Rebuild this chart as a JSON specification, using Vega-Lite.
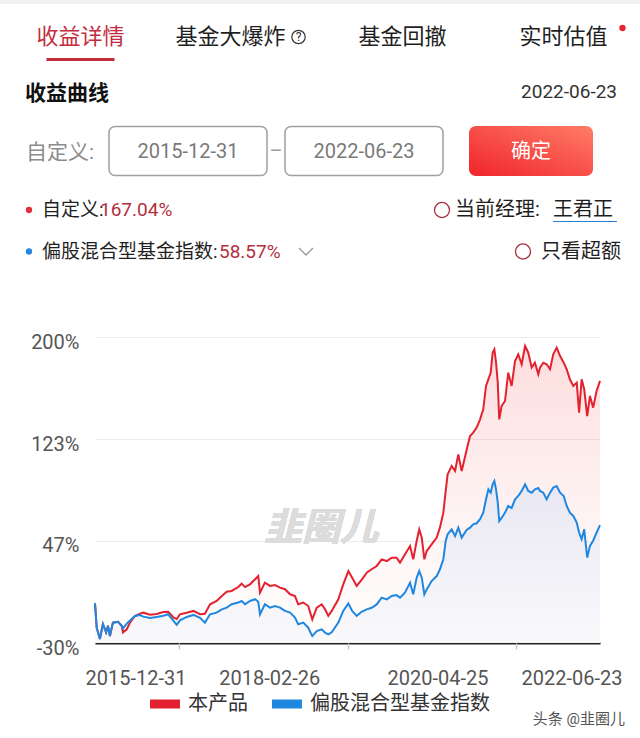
{
  "$schema": "https://vega.github.io/schema/vega-lite/v6.json",
  "padding": 0,
  "spacing": 0,
  "background": "white",
  "resolve": {"scale": {"color": "independent", "x": "independent", "y": "independent"}},
  "config": {
    "view": {"stroke": null},
    "font": "Roboto, Noto Sans CJK SC, sans-serif",
    "text": {"font": "Roboto, Noto Sans CJK SC, sans-serif"}
  },
  "vconcat": [
    {
      "width": 545,
      "height": 4,
      "data": {"values": [{"bar": "top"}]},
      "mark": {"type": "bar", "color": "#f1f1f1"},
      "encoding": {
        "x": {"field": "bar", "type": "nominal", "axis": null,
              "scale": {"type": "band", "range": [-95, 545], "paddingInner": 0, "paddingOuter": 0}}
      }
    },
    {
      "width": 545,
      "height": 54,
      "data": {"values": [
        {"tab": "收益详情", "state": "active", "help": false},
        {"tab": "基金大爆炸", "state": "normal", "help": true},
        {"tab": "基金回撤", "state": "normal", "help": false},
        {"tab": "实时估值", "state": "normal", "help": false, "badge": true}
      ]},
      "encoding": {
        "x": {"field": "tab", "type": "nominal", "axis": null,
              "scale": {"type": "band", "domain": ["收益详情", "基金大爆炸", "基金回撤", "实时估值"], "range": [-95, 549], "paddingInner": 0, "paddingOuter": 0}}
      },
      "layer": [
        {"transform": [{"filter": "!datum.help"}],
         "mark": {"type": "text", "fontSize": 22, "dy": 6},
         "encoding": {
           "text": {"field": "tab"},
           "color": {"field": "state", "type": "nominal", "scale": {"domain": ["active", "normal"], "range": ["#c42b3d", "#1f1f1f"]}, "legend": null}
         }},
        {"transform": [{"filter": "datum.help"}],
         "mark": {"type": "text", "fontSize": 22, "dy": 6, "dx": -11, "color": "#1f1f1f"},
         "encoding": {"text": {"field": "tab"}}},
        {"transform": [{"filter": "datum.help"}],
         "mark": {"type": "point", "shape": "circle", "size": 180, "color": "#333333", "strokeWidth": 1.2, "opacity": 1, "xOffset": 57, "yOffset": 6}},
        {"transform": [{"filter": "datum.help"}],
         "mark": {"type": "text", "fontSize": 12, "color": "#333333", "dx": 57, "dy": 6},
         "encoding": {"text": {"value": "?"}}},
        {"transform": [{"filter": "datum.badge"}],
         "mark": {"type": "point", "shape": "circle", "filled": true, "opacity": 1, "size": 40, "color": "#e8222e", "xOffset": 59, "yOffset": -3}}
      ]
    },
    {
      "width": 545,
      "height": 3,
      "data": {"values": [{"tab": "收益详情"}]},
      "mark": {"type": "bar", "width": 68, "color": "#c42b3d"},
      "encoding": {
        "x": {"field": "tab", "type": "nominal", "axis": null,
              "scale": {"type": "band", "domain": ["收益详情", "基金大爆炸", "基金回撤", "实时估值"], "range": [-95, 549], "paddingInner": 0, "paddingOuter": 0}}
      }
    },
    {
      "width": 545,
      "height": 61.5,
      "data": {"values": [{"c": "收益曲线"}, {"c": "2022-06-23"}]},
      "encoding": {
        "x": {"field": "c", "type": "nominal", "axis": null,
              "scale": {"type": "point", "domain": ["收益曲线", "2022-06-23"], "range": [-70, 522], "padding": 0}},
        "text": {"field": "c"}
      },
      "layer": [
        {"transform": [{"filter": "datum.c == '收益曲线'"}],
         "mark": {"type": "text", "align": "left", "fontSize": 21, "fontWeight": "bold", "color": "#111111", "dy": 2}},
        {"transform": [{"filter": "datum.c != '收益曲线'"}],
         "mark": {"type": "text", "align": "right", "fontSize": 19, "color": "#333333", "dy": 0}}
      ]
    },
    {
      "width": 545,
      "height": 50,
      "resolve": {"scale": {"x": "independent"}},
      "layer": [
        {
          "data": {"values": [{"w": "自定义:"}]},
          "mark": {"type": "text", "align": "left", "fontSize": 21, "color": "#8c8c8c", "dy": 2},
          "encoding": {
            "x": {"field": "w", "type": "nominal", "axis": null, "scale": {"type": "point", "range": [-69, -69], "padding": 0}},
            "text": {"field": "w"}
          }
        },
        {
          "data": {"values": [{"w": "2015-12-31", "k": "box"}, {"w": "–", "k": "dash"}, {"w": "2022-06-23", "k": "box"}]},
          "encoding": {
            "x": {"field": "w", "type": "nominal", "axis": null,
                  "scale": {"type": "point", "domain": ["2015-12-31", "–", "2022-06-23"], "range": [93, 269], "padding": 0}}
          },
          "layer": [
            {"transform": [{"filter": "datum.k == 'box'"}],
             "mark": {"type": "point", "shape": "M-0.9125,-0.30625H0.9125A0.075,0.075,0,0,1,0.9875,-0.23125V0.23125A0.075,0.075,0,0,1,0.9125,0.30625H-0.9125A0.075,0.075,0,0,1,-0.9875,0.23125V-0.23125A0.075,0.075,0,0,1,-0.9125,-0.30625Z",
                      "size": 25600, "filled": false, "stroke": "#a0a0a0", "strokeWidth": 1.5, "opacity": 1}},
            {"mark": {"type": "text", "fontSize": 20, "dy": 1},
             "encoding": {
               "text": {"field": "w"},
               "color": {"field": "k", "type": "nominal", "scale": {"domain": ["box", "dash"], "range": ["#7a7a7a", "#9a9a9a"]}, "legend": null}
             }}
          ]
        },
        {
          "data": {"values": [{"w": "确定"}]},
          "encoding": {
            "x": {"field": "w", "type": "nominal", "axis": null, "scale": {"type": "point", "range": [436, 436], "padding": 0}}
          },
          "layer": [
            {"mark": {"type": "point", "shape": "M-0.859375,-0.390625H0.859375A0.109375,0.109375,0,0,1,0.96875,-0.28125V0.28125A0.109375,0.109375,0,0,1,0.859375,0.390625H-0.859375A0.109375,0.109375,0,0,1,-0.96875,0.28125V-0.28125A0.109375,0.109375,0,0,1,-0.859375,-0.390625Z",
                      "size": 16384, "filled": true, "opacity": 1, "strokeWidth": 0,
                      "fill": {"gradient": "linear", "x1": 0, "y1": 1, "x2": 1, "y2": 0,
                               "stops": [{"offset": 0, "color": "#f0242c"}, {"offset": 1, "color": "#ff7c66"}]}}},
            {"mark": {"type": "text", "fontSize": 20, "color": "#ffffff", "dy": 1},
             "encoding": {"text": {"field": "w"}}}
          ]
        }
      ]
    },
    {
      "width": 545,
      "height": 55,
      "resolve": {"scale": {"x": "independent"}},
      "layer": [
        {
          "data": {"values": [{"s": "自定义"}]},
          "mark": {"type": "point", "shape": "circle", "filled": true, "opacity": 1, "size": 40, "color": "#e0303c", "yOffset": 3.5},
          "encoding": {"x": {"field": "s", "type": "nominal", "axis": null, "scale": {"type": "point", "range": [-66, -66], "padding": 0}}}
        },
        {
          "data": {"values": [{"p": "自定义:", "k": "label"}, {"p": "167.04%", "k": "value"}]},
          "mark": {"type": "text", "align": "left", "fontSize": 19, "dy": 3.5},
          "encoding": {
            "x": {"field": "p", "type": "nominal", "axis": null, "scale": {"type": "point", "domain": ["自定义:", "167.04%"], "range": [-53, 5], "padding": 0}},
            "text": {"field": "p"},
            "color": {"field": "k", "type": "nominal", "scale": {"domain": ["label", "value"], "range": ["#1f1f1f", "#b3303f"]}, "legend": null}
          }
        },
        {
          "data": {"values": [{"p": "经理"}]},
          "mark": {"type": "point", "shape": "circle", "size": 227, "color": "#a3303f", "strokeWidth": 1.3, "opacity": 1, "yOffset": 3.5},
          "encoding": {"x": {"field": "p", "type": "nominal", "axis": null, "scale": {"type": "point", "range": [347, 347], "padding": 0}}}
        },
        {
          "data": {"values": [{"p": "当前经理:", "k": "label"}, {"p": "王君正", "k": "link"}]},
          "encoding": {
            "x": {"field": "p", "type": "nominal", "axis": null, "scale": {"type": "point", "domain": ["当前经理:", "王君正"], "range": [360, 458], "padding": 0}}
          },
          "layer": [
            {"mark": {"type": "text", "align": "left", "fontSize": 20, "dy": 3.5},
             "encoding": {
               "text": {"field": "p"},
               "color": {"field": "k", "type": "nominal", "scale": {"domain": ["label", "link"], "range": ["#1f1f1f", "#2a7fd0"]}, "legend": null}
             }},
            {"transform": [{"filter": "datum.k == 'link'"}],
             "mark": {"type": "point", "shape": "M-1,0H1", "size": 4096, "filled": false, "stroke": "#2a7fd0", "strokeWidth": 1.2, "opacity": 1, "xOffset": 32, "yOffset": 15}}
          ]
        }
      ]
    },
    {
      "width": 545,
      "height": 40,
      "resolve": {"scale": {"x": "independent"}},
      "layer": [
        {
          "data": {"values": [{"s": "指数"}]},
          "mark": {"type": "point", "shape": "circle", "filled": true, "opacity": 1, "size": 40, "color": "#2a86e0", "yOffset": -2.5},
          "encoding": {"x": {"field": "s", "type": "nominal", "axis": null, "scale": {"type": "point", "range": [-66, -66], "padding": 0}}}
        },
        {
          "data": {"values": [{"p": "偏股混合型基金指数:", "k": "label"}, {"p": "58.57%", "k": "value"}]},
          "mark": {"type": "text", "align": "left", "fontSize": 19, "dy": -2.5},
          "encoding": {
            "x": {"field": "p", "type": "nominal", "axis": null, "scale": {"type": "point", "domain": ["偏股混合型基金指数:", "58.57%"], "range": [-53, 124], "padding": 0}},
            "text": {"field": "p"},
            "color": {"field": "k", "type": "nominal", "scale": {"domain": ["label", "value"], "range": ["#1f1f1f", "#b3303f"]}, "legend": null}
          }
        },
        {
          "data": {"values": [{"p": "展开"}]},
          "mark": {"type": "point", "shape": "M-1,-0.5L0,0.5L1,-0.5", "size": 196, "filled": false, "stroke": "#9a9a9a", "strokeWidth": 1.3, "opacity": 1, "yOffset": -2.5},
          "encoding": {"x": {"field": "p", "type": "nominal", "axis": null, "scale": {"type": "point", "range": [211, 211], "padding": 0}}}
        },
        {
          "data": {"values": [{"p": "超额"}]},
          "mark": {"type": "point", "shape": "circle", "size": 227, "color": "#a3303f", "strokeWidth": 1.3, "opacity": 1, "yOffset": -2.5},
          "encoding": {"x": {"field": "p", "type": "nominal", "axis": null, "scale": {"type": "point", "range": [428, 428], "padding": 0}}}
        },
        {
          "data": {"values": [{"p": "只看超额"}]},
          "mark": {"type": "text", "align": "left", "fontSize": 20, "color": "#1f1f1f", "dy": -2.5},
          "encoding": {
            "x": {"field": "p", "type": "nominal", "axis": null, "scale": {"type": "point", "range": [446, 446], "padding": 0}},
            "text": {"field": "p"}
          }
        }
      ]
    },
    {
      "width": 545,
      "height": 57.5,
      "data": {"values": [{"t": ""}]},
      "mark": {"type": "text"},
      "encoding": {"text": {"field": "t"}}
    },
    {
      "width": 505,
      "height": 306,
      "data": {"values": [
        {"date": "2015-12-31", "fund": 0, "idx": 0},
        {"date": "2016-01-08", "fund": -18.5, "idx": -18.5},
        {"date": "2016-01-23", "fund": -27, "idx": -27},
        {"date": "2016-02-06", "fund": -15.7, "idx": -15.7},
        {"date": "2016-02-21", "fund": -22, "idx": -22},
        {"date": "2016-03-01", "fund": -17, "idx": -17},
        {"date": "2016-03-10", "fund": -24.7, "idx": -24.7},
        {"date": "2016-03-24", "fund": -14.7, "idx": -14.7},
        {"date": "2016-04-17", "fund": -14, "idx": -14},
        {"date": "2016-05-04", "fund": -17, "idx": -17},
        {"date": "2016-05-10", "fund": -22, "idx": -19},
        {"date": "2016-05-28", "fund": -19.7, "idx": -15.5},
        {"date": "2016-06-12", "fund": -14.7, "idx": -13},
        {"date": "2016-07-05", "fund": -9.7, "idx": -9.7},
        {"date": "2016-07-29", "fund": -8, "idx": -9},
        {"date": "2016-08-13", "fund": -7.2, "idx": -10.2},
        {"date": "2016-09-14", "fund": -8.7, "idx": -11.2},
        {"date": "2016-10-15", "fund": -8.2, "idx": -10.4},
        {"date": "2016-11-15", "fund": -6.7, "idx": -9.5},
        {"date": "2016-12-08", "fund": -6.5, "idx": -8.4},
        {"date": "2017-01-03", "fund": -10.9, "idx": -13.5},
        {"date": "2017-01-17", "fund": -12, "idx": -16.4},
        {"date": "2017-02-01", "fund": -8.4, "idx": -13},
        {"date": "2017-03-05", "fund": -7.2, "idx": -10.4},
        {"date": "2017-04-05", "fund": -5.9, "idx": -8.9},
        {"date": "2017-05-06", "fund": -8.4, "idx": -11},
        {"date": "2017-05-29", "fund": -8, "idx": -14.7},
        {"date": "2017-06-22", "fund": -0.9, "idx": -8.4},
        {"date": "2017-07-23", "fund": 1.6, "idx": -7.2},
        {"date": "2017-08-16", "fund": 5.3, "idx": -4.7},
        {"date": "2017-09-08", "fund": 8.6, "idx": -3.4},
        {"date": "2017-10-01", "fund": 9.1, "idx": -0.9},
        {"date": "2017-11-01", "fund": 12.1, "idx": 0.4},
        {"date": "2017-11-17", "fund": 14.6, "idx": 1.6},
        {"date": "2017-12-03", "fund": 12, "idx": -0.9},
        {"date": "2017-12-26", "fund": 14.1, "idx": 1.6},
        {"date": "2018-01-19", "fund": 17.9, "idx": 2.9},
        {"date": "2018-02-03", "fund": 20.4, "idx": 1.0},
        {"date": "2018-02-11", "fund": 7.9, "idx": -8.4},
        {"date": "2018-03-06", "fund": 15.4, "idx": -0.9},
        {"date": "2018-03-30", "fund": 12.9, "idx": -3.4},
        {"date": "2018-04-22", "fund": 13.5, "idx": -2.2},
        {"date": "2018-05-16", "fund": 11.6, "idx": -3.4},
        {"date": "2018-06-08", "fund": 10.4, "idx": -5.9},
        {"date": "2018-07-02", "fund": 6.6, "idx": -7.2},
        {"date": "2018-07-25", "fund": 5.3, "idx": -10.9},
        {"date": "2018-08-09", "fund": -0.9, "idx": -15.9},
        {"date": "2018-09-02", "fund": 0.4, "idx": -14.7},
        {"date": "2018-09-25", "fund": -2.2, "idx": -18.5},
        {"date": "2018-10-14", "fund": -12.2, "idx": -24.8},
        {"date": "2018-11-04", "fund": -3.4, "idx": -21},
        {"date": "2018-11-27", "fund": -0.9, "idx": -19.7},
        {"date": "2018-12-13", "fund": -4.7, "idx": -22.3},
        {"date": "2018-12-28", "fund": -9.6, "idx": -23.5},
        {"date": "2019-01-13", "fund": -5.9, "idx": -22},
        {"date": "2019-02-13", "fund": 2.9, "idx": -14.7},
        {"date": "2019-03-08", "fund": 14.1, "idx": -5.9},
        {"date": "2019-04-01", "fund": 24.1, "idx": -0.3},
        {"date": "2019-04-19", "fund": 19.1, "idx": -5.9},
        {"date": "2019-05-10", "fund": 12.9, "idx": -9.6},
        {"date": "2019-06-02", "fund": 17.5, "idx": -6.5},
        {"date": "2019-06-26", "fund": 22.9, "idx": -4.7},
        {"date": "2019-07-19", "fund": 25.4, "idx": -3.5},
        {"date": "2019-08-12", "fund": 27.9, "idx": -1.0},
        {"date": "2019-09-04", "fund": 32.9, "idx": 4.1},
        {"date": "2019-09-28", "fund": 31.6, "idx": 2.8},
        {"date": "2019-10-21", "fund": 34.1, "idx": 5.3},
        {"date": "2019-11-13", "fund": 34.1, "idx": 6.0},
        {"date": "2019-11-29", "fund": 30.4, "idx": 4.1},
        {"date": "2019-12-22", "fund": 36.6, "idx": 7.8},
        {"date": "2020-01-15", "fund": 42.9, "idx": 15.3},
        {"date": "2020-01-30", "fund": 32.9, "idx": 6.6},
        {"date": "2020-02-15", "fund": 46.7, "idx": 19.1},
        {"date": "2020-02-27", "fund": 55.4, "idx": 24.1},
        {"date": "2020-03-10", "fund": 49.2, "idx": 19.1},
        {"date": "2020-03-22", "fund": 32.9, "idx": 6.6},
        {"date": "2020-04-02", "fund": 39.1, "idx": 10.3},
        {"date": "2020-04-25", "fund": 44.1, "idx": 16.6},
        {"date": "2020-05-19", "fund": 49.2, "idx": 20.3},
        {"date": "2020-06-03", "fund": 56.7, "idx": 25.4},
        {"date": "2020-06-19", "fund": 68, "idx": 32.9},
        {"date": "2020-06-30", "fund": 84.2, "idx": 46.7},
        {"date": "2020-07-09", "fund": 96.7, "idx": 51.7},
        {"date": "2020-07-28", "fund": 103, "idx": 55.4},
        {"date": "2020-08-13", "fund": 99.3, "idx": 50.4},
        {"date": "2020-08-28", "fund": 111.8, "idx": 56.7},
        {"date": "2020-09-13", "fund": 99.3, "idx": 49.2},
        {"date": "2020-10-06", "fund": 115, "idx": 55},
        {"date": "2020-10-22", "fund": 125.6, "idx": 56.7},
        {"date": "2020-11-06", "fund": 128.1, "idx": 59.2},
        {"date": "2020-11-22", "fund": 131.9, "idx": 60},
        {"date": "2020-12-08", "fund": 138.1, "idx": 63},
        {"date": "2020-12-23", "fund": 145.6, "idx": 68},
        {"date": "2021-01-05", "fund": 163.2, "idx": 78},
        {"date": "2021-01-16", "fund": 168.2, "idx": 85.5},
        {"date": "2021-01-27", "fund": 173.2, "idx": 83},
        {"date": "2021-02-05", "fund": 188.2, "idx": 89.3},
        {"date": "2021-02-13", "fund": 190.7, "idx": 91.8},
        {"date": "2021-02-21", "fund": 180.7, "idx": 85.5},
        {"date": "2021-03-01", "fund": 165.7, "idx": 75.5},
        {"date": "2021-03-08", "fund": 138.1, "idx": 61.7},
        {"date": "2021-03-19", "fund": 148.1, "idx": 64},
        {"date": "2021-04-04", "fund": 151.9, "idx": 68},
        {"date": "2021-04-19", "fund": 173.2, "idx": 73},
        {"date": "2021-05-05", "fund": 163.2, "idx": 71.5},
        {"date": "2021-05-21", "fund": 182, "idx": 78},
        {"date": "2021-06-05", "fund": 187, "idx": 80.5},
        {"date": "2021-06-21", "fund": 179.5, "idx": 84.3},
        {"date": "2021-07-07", "fund": 193.2, "idx": 89.3},
        {"date": "2021-07-22", "fund": 188.2, "idx": 84.3},
        {"date": "2021-08-07", "fund": 177, "idx": 83},
        {"date": "2021-08-22", "fund": 180.7, "idx": 85.5},
        {"date": "2021-09-07", "fund": 172, "idx": 86.5},
        {"date": "2021-09-15", "fund": 177, "idx": 84.3},
        {"date": "2021-09-30", "fund": 180.7, "idx": 83},
        {"date": "2021-10-16", "fund": 179.5, "idx": 78},
        {"date": "2021-11-01", "fund": 175.7, "idx": 83},
        {"date": "2021-11-16", "fund": 187, "idx": 86.8},
        {"date": "2021-12-02", "fund": 192, "idx": 88},
        {"date": "2021-12-18", "fund": 185.7, "idx": 83},
        {"date": "2022-01-04", "fund": 180.7, "idx": 80.5},
        {"date": "2022-01-18", "fund": 175.7, "idx": 73},
        {"date": "2022-02-02", "fund": 168.2, "idx": 68},
        {"date": "2022-02-18", "fund": 163.2, "idx": 65.5},
        {"date": "2022-03-06", "fund": 165.7, "idx": 60.5},
        {"date": "2022-03-17", "fund": 143.1, "idx": 53},
        {"date": "2022-03-29", "fund": 168.2, "idx": 48},
        {"date": "2022-04-10", "fund": 160.7, "idx": 55.5},
        {"date": "2022-04-24", "fund": 140.6, "idx": 34.2},
        {"date": "2022-05-07", "fund": 155.7, "idx": 43},
        {"date": "2022-05-22", "fund": 146.9, "idx": 46.9},
        {"date": "2022-06-07", "fund": 159.4, "idx": 53},
        {"date": "2022-06-23", "fund": 167.04, "idx": 58.57}
      ]},
      "resolve": {"axis": {"x": "independent"}},
      "layer": [
        {
          "mark": {"type": "area",
                   "fill": {"gradient": "linear", "x1": 0, "y1": 0, "x2": 0, "y2": 1,
                            "stops": [{"offset": 0, "color": "rgba(248,110,110,0.24)"}, {"offset": 0.6, "color": "rgba(248,150,150,0.11)"}, {"offset": 1, "color": "rgba(248,200,200,0.04)"}]}},
          "encoding": {
            "x": {"field": "date", "type": "temporal",
                  "scale": {"domain": [{"year": 2015, "month": 12, "date": 31}, {"year": 2022, "month": 6, "date": 23}], "nice": false},
                  "axis": {"orient": "bottom", "title": null,
                           "values": [{"year": 2015, "month": 12, "date": 31}, {"year": 2018, "month": 2, "date": 26}, {"year": 2020, "month": 4, "date": 25}, {"year": 2022, "month": 6, "date": 23}],
                           "format": "%Y-%m-%d", "labelFlush": true, "labelFlushOffset": 16, "labelOffset": 6,
                           "ticks": false, "tickSize": 0, "domain": true, "domainColor": "#222222", "domainWidth": 2,
                           "grid": false, "labelPadding": 25, "labelFontSize": 20, "labelColor": "#555555", "labelOverlap": false, "labelBound": false}},
            "y": {"field": "fund", "type": "quantitative",
                  "scale": {"domain": [-30, 200], "nice": false, "zero": false},
                  "axis": {"title": null, "values": [-30, 46.6667, 123.3333, 200], "labelExpr": "round(datum.value) + '%'",
                           "domain": false, "ticks": false, "grid": true, "gridColor": "#ebebeb", "gridWidth": 1,
                           "labelPadding": 16, "labelFontSize": 20, "labelColor": "#555555", "labelOffset": 5, "minExtent": 95}},
            "y2": {"datum": -30}
          }
        },
        {
          "mark": {"type": "area",
                   "fill": {"gradient": "linear", "x1": 0, "y1": 0, "x2": 0, "y2": 1,
                            "stops": [{"offset": 0, "color": "rgba(231,230,242,0.93)"}, {"offset": 1, "color": "rgba(249,249,252,0.9)"}]}},
          "encoding": {
            "x": {"field": "date", "type": "temporal", "axis": null},
            "y": {"field": "idx", "type": "quantitative"},
            "y2": {"datum": -30}
          }
        },
        {
          "mark": {"type": "line", "color": "#e3222f", "strokeWidth": 2},
          "encoding": {
            "x": {"field": "date", "type": "temporal", "axis": null},
            "y": {"field": "fund", "type": "quantitative"}
          }
        },
        {
          "mark": {"type": "line", "color": "#1f87e0", "strokeWidth": 2},
          "encoding": {
            "x": {"field": "date", "type": "temporal",
                  "axis": {"orient": "bottom", "title": null, "labels": false, "domain": false, "grid": false, "ticks": true,
                           "tickSize": 6, "tickColor": "#c8c8c8", "tickWidth": 1.5,
                           "values": [{"year": 2017, "month": 1, "date": 28}, {"year": 2019, "month": 3, "date": 28}, {"year": 2021, "month": 5, "date": 25}]}},
            "y": {"field": "idx", "type": "quantitative"}
          }
        },
        {
          "mark": {"type": "text", "text": "韭圈儿", "fontSize": 38, "fontStyle": "italic", "fontWeight": "bold", "color": "#dcdcdc", "opacity": 0.8},
          "encoding": {
            "x": {"datum": {"year": 2018, "month": 11, "date": 25}, "type": "temporal", "axis": null},
            "y": {"datum": 56, "type": "quantitative"}
          }
        }
      ]
    },
    {
      "width": 545,
      "height": 32,
      "resolve": {"scale": {"x": "independent"}},
      "layer": [
        {
          "data": {"values": [{"s": "本产品"}, {"s": "偏股混合型基金指数"}]},
          "encoding": {
            "x": {"field": "s", "type": "nominal", "axis": null,
                  "scale": {"type": "point", "domain": ["本产品", "偏股混合型基金指数"], "range": [70, 192], "padding": 0}}
          },
          "layer": [
            {"mark": {"type": "point", "shape": "M-1,-0.3H1V0.3H-1Z", "size": 900, "filled": true, "opacity": 1},
             "encoding": {"color": {"field": "s", "type": "nominal", "scale": {"domain": ["本产品", "偏股混合型基金指数"], "range": ["#e3222f", "#1f87e0"]}, "legend": null}}},
            {"mark": {"type": "text", "align": "left", "dx": 23, "fontSize": 20, "color": "#333333"},
             "encoding": {"text": {"field": "s"}}}
          ]
        },
        {
          "data": {"values": [{"t": "头条 @韭圈儿"}]},
          "mark": {"type": "text", "align": "right", "dy": 15, "fontSize": 15, "color": "#555555"},
          "encoding": {
            "x": {"field": "t", "type": "nominal", "axis": null, "scale": {"type": "point", "range": [530, 530], "padding": 0}},
            "text": {"field": "t"}
          }
        }
      ]
    }
  ]
}
